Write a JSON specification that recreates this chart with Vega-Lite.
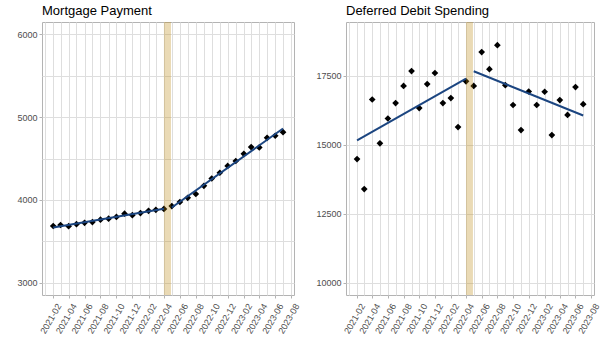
{
  "$schema": "https://vega.github.io/schema/vega-lite/v6.json",
  "background": "white",
  "padding": {"left": 16, "top": 4, "right": 0, "bottom": 4},
  "spacing": 13,
  "config": {
    "font": "Liberation Sans",
    "view": {"stroke": "#B3B3B3", "strokeWidth": 1},
    "title": {"anchor": "start", "frame": "group", "fontSize": 13, "fontWeight": "normal", "color": "black", "font": "Liberation Sans", "offset": 4},
    "axis": {"domain": false, "gridColor": "#DEDEDE", "gridWidth": 1, "tickSize": 3, "labelFontSize": 9, "labelColor": "#4D4D4D", "labelFont": "Liberation Sans", "title": null}
  },
  "hconcat": [
    {
      "title": "Mortgage Payment",
      "width": 252,
      "height": 273,
      "data": {
        "values": [
          {"date": "2021-02-01", "value": 3684, "period": "pre"},
          {"date": "2021-03-01", "value": 3696, "period": "pre"},
          {"date": "2021-04-01", "value": 3682, "period": "pre"},
          {"date": "2021-05-01", "value": 3706, "period": "pre"},
          {"date": "2021-06-01", "value": 3722, "period": "pre"},
          {"date": "2021-07-01", "value": 3732, "period": "pre"},
          {"date": "2021-08-01", "value": 3761, "period": "pre"},
          {"date": "2021-09-01", "value": 3773, "period": "pre"},
          {"date": "2021-10-01", "value": 3794, "period": "pre"},
          {"date": "2021-11-01", "value": 3833, "period": "pre"},
          {"date": "2021-12-01", "value": 3815, "period": "pre"},
          {"date": "2022-01-01", "value": 3840, "period": "pre"},
          {"date": "2022-02-01", "value": 3868, "period": "pre"},
          {"date": "2022-03-01", "value": 3879, "period": "pre"},
          {"date": "2022-04-01", "value": 3891, "period": "pre"},
          {"date": "2022-05-01", "value": 3925, "period": "post"},
          {"date": "2022-06-01", "value": 3974, "period": "post"},
          {"date": "2022-07-01", "value": 4025, "period": "post"},
          {"date": "2022-08-01", "value": 4071, "period": "post"},
          {"date": "2022-09-01", "value": 4170, "period": "post"},
          {"date": "2022-10-01", "value": 4258, "period": "post"},
          {"date": "2022-11-01", "value": 4328, "period": "post"},
          {"date": "2022-12-01", "value": 4410, "period": "post"},
          {"date": "2023-01-01", "value": 4470, "period": "post"},
          {"date": "2023-02-01", "value": 4556, "period": "post"},
          {"date": "2023-03-01", "value": 4638, "period": "post"},
          {"date": "2023-04-01", "value": 4634, "period": "post"},
          {"date": "2023-05-01", "value": 4750, "period": "post"},
          {"date": "2023-06-01", "value": 4775, "period": "post"},
          {"date": "2023-07-01", "value": 4818, "period": "post"}
        ],
        "format": {"parse": {"date": "date"}}
      },
      "layer": [
        {
          "mark": {"type": "point", "shape": "diamond", "filled": true, "color": "black", "size": 45, "opacity": 1},
          "encoding": {
            "x": {
              "field": "date", "type": "temporal",
              "scale": {"type": "utc", "nice": false, "domain": [{"year": 2020, "month": 12, "date": 20, "utc": true}, {"year": 2023, "month": 8, "date": 12, "utc": true}]},
              "axis": {
                "tickCount": {"interval": "month", "step": 1},
                "labelExpr": "utcmonth(datum.value) % 2 == 1 ? utcFormat(datum.value, '%Y-%m') : ''",
                "labelAngle": -60, "labelAlign": "right", "labelBaseline": "top",
                "labelPadding": 4, "labelOffset": 2, "labelOverlap": false, "labelFlush": false, "labelBound": false,
                "tickColor": {"condition": {"test": "utcmonth(datum.value) % 2 == 1", "value": "#B3B3B3"}, "value": "rgba(0,0,0,0)"}
              }
            },
            "y": {
              "field": "value", "type": "quantitative",
              "scale": {"domain": [2850, 6150], "nice": false, "zero": false},
              "axis": {
                "values": [3000, 3500, 4000, 4500, 5000, 5500, 6000],
                "format": "d",
                "labelExpr": "datum.value % 1000 == 0 ? datum.label : ''",
                "labelPadding": 2,
                "tickColor": {"condition": {"test": "datum.value % 1000 == 0", "value": "#B3B3B3"}, "value": "rgba(0,0,0,0)"}
              }
            }
          }
        },
        {
          "transform": [{"regression": "value", "on": "date", "groupby": ["period"], "method": "linear"}],
          "mark": {"type": "line", "color": "#1B4580", "strokeWidth": 2},
          "encoding": {
            "x": {"field": "date", "type": "temporal"},
            "y": {"field": "value", "type": "quantitative"},
            "detail": {"field": "period"}
          }
        },
        {
          "data": {"values": [{"start": "2022-04-01", "end": "2022-04-28"}], "format": {"parse": {"start": "date", "end": "date"}}},
          "mark": {"type": "rect", "color": "#B8860B", "opacity": 0.3},
          "encoding": {
            "x": {"field": "start", "type": "temporal"},
            "x2": {"field": "end"}
          }
        }
      ]
    },
    {
      "title": "Deferred Debit Spending",
      "width": 248,
      "height": 273,
      "data": {
        "values": [
          {"date": "2021-02-01", "value": 14480, "period": "pre"},
          {"date": "2021-03-01", "value": 13390, "period": "pre"},
          {"date": "2021-04-01", "value": 16640, "period": "pre"},
          {"date": "2021-05-01", "value": 15050, "period": "pre"},
          {"date": "2021-06-01", "value": 15950, "period": "pre"},
          {"date": "2021-07-01", "value": 16510, "period": "pre"},
          {"date": "2021-08-01", "value": 17130, "period": "pre"},
          {"date": "2021-09-01", "value": 17670, "period": "pre"},
          {"date": "2021-10-01", "value": 16330, "period": "pre"},
          {"date": "2021-11-01", "value": 17200, "period": "pre"},
          {"date": "2021-12-01", "value": 17600, "period": "pre"},
          {"date": "2022-01-01", "value": 16510, "period": "pre"},
          {"date": "2022-02-01", "value": 16690, "period": "pre"},
          {"date": "2022-03-01", "value": 15640, "period": "pre"},
          {"date": "2022-04-01", "value": 17300, "period": "pre"},
          {"date": "2022-05-01", "value": 17130, "period": "post"},
          {"date": "2022-06-01", "value": 18360, "period": "post"},
          {"date": "2022-07-01", "value": 17740, "period": "post"},
          {"date": "2022-08-01", "value": 18610, "period": "post"},
          {"date": "2022-09-01", "value": 17160, "period": "post"},
          {"date": "2022-10-01", "value": 16440, "period": "post"},
          {"date": "2022-11-01", "value": 15530, "period": "post"},
          {"date": "2022-12-01", "value": 16930, "period": "post"},
          {"date": "2023-01-01", "value": 16440, "period": "post"},
          {"date": "2023-02-01", "value": 16920, "period": "post"},
          {"date": "2023-03-01", "value": 15350, "period": "post"},
          {"date": "2023-04-01", "value": 16620, "period": "post"},
          {"date": "2023-05-01", "value": 16080, "period": "post"},
          {"date": "2023-06-01", "value": 17090, "period": "post"},
          {"date": "2023-07-01", "value": 16470, "period": "post"}
        ],
        "format": {"parse": {"date": "date"}}
      },
      "layer": [
        {
          "mark": {"type": "point", "shape": "diamond", "filled": true, "color": "black", "size": 45, "opacity": 1},
          "encoding": {
            "x": {
              "field": "date", "type": "temporal",
              "scale": {"type": "utc", "nice": false, "domain": [{"year": 2020, "month": 12, "date": 20, "utc": true}, {"year": 2023, "month": 8, "date": 12, "utc": true}]},
              "axis": {
                "tickCount": {"interval": "month", "step": 1},
                "labelExpr": "utcmonth(datum.value) % 2 == 1 ? utcFormat(datum.value, '%Y-%m') : ''",
                "labelAngle": -60, "labelAlign": "right", "labelBaseline": "top",
                "labelPadding": 4, "labelOffset": 2, "labelOverlap": false, "labelFlush": false, "labelBound": false,
                "tickColor": {"condition": {"test": "utcmonth(datum.value) % 2 == 1", "value": "#B3B3B3"}, "value": "rgba(0,0,0,0)"}
              }
            },
            "y": {
              "field": "value", "type": "quantitative",
              "scale": {"domain": [9550, 19450], "nice": false, "zero": false},
              "axis": {
                "values": [10000, 11250, 12500, 13750, 15000, 16250, 17500, 18750],
                "format": "d",
                "labelExpr": "datum.value % 2500 == 0 ? datum.label : ''",
                "labelPadding": 2,
                "tickColor": {"condition": {"test": "datum.value % 2500 == 0", "value": "#B3B3B3"}, "value": "rgba(0,0,0,0)"}
              }
            }
          }
        },
        {
          "transform": [{"regression": "value", "on": "date", "groupby": ["period"], "method": "linear"}],
          "mark": {"type": "line", "color": "#1B4580", "strokeWidth": 2},
          "encoding": {
            "x": {"field": "date", "type": "temporal"},
            "y": {"field": "value", "type": "quantitative"},
            "detail": {"field": "period"}
          }
        },
        {
          "data": {"values": [{"start": "2022-04-01", "end": "2022-04-28"}], "format": {"parse": {"start": "date", "end": "date"}}},
          "mark": {"type": "rect", "color": "#B8860B", "opacity": 0.3},
          "encoding": {
            "x": {"field": "start", "type": "temporal"},
            "x2": {"field": "end"}
          }
        }
      ]
    }
  ]
}
